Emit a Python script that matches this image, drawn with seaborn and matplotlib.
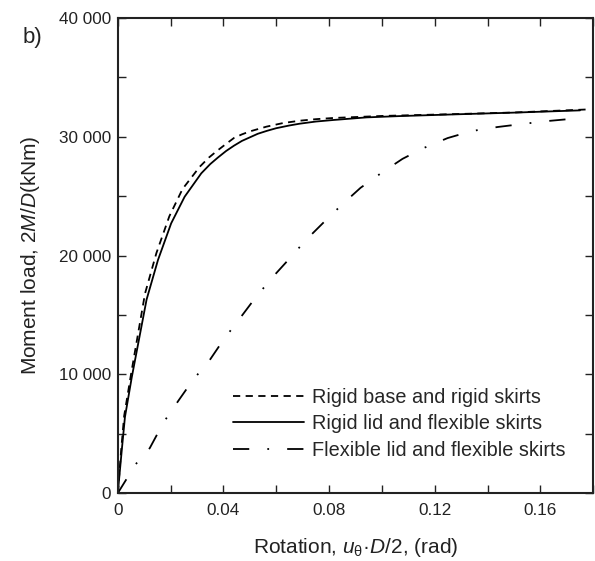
import numpy as np
import pandas as pd
import matplotlib
matplotlib.use("Agg")
import matplotlib.pyplot as plt
import seaborn as sns
from matplotlib.ticker import MultipleLocator

# values
rigid_base_x = [0, 0.0013, 0.0024, 0.005, 0.0103, 0.0146, 0.0195, 0.0245, 0.031,
                0.0345, 0.0375, 0.041, 0.044, 0.047, 0.05, 0.0563, 0.0625, 0.0689,
                0.075, 0.0816, 0.1, 0.13, 0.15, 0.178]
rigid_base_y = [0, 3700, 6500, 10000, 16800, 20200, 23300, 25600, 27470,
                28250, 28800, 29400, 29900, 30200, 30450, 30850, 31150, 31350,
                31480, 31580, 31750, 31920, 32040, 32300]

rigid_lid_x = [0, 0.0015, 0.0027, 0.0053, 0.0109, 0.0152, 0.0202, 0.0253, 0.0316,
               0.035, 0.0379, 0.041, 0.044, 0.047, 0.05, 0.053, 0.0565, 0.06,
               0.065, 0.0689, 0.075, 0.0816, 0.0942, 0.1068, 0.13, 0.15, 0.175]
rigid_lid_y = [0, 3620, 6400, 9770, 16300, 19620, 22710, 24950, 26920,
               27700, 28250, 28800, 29250, 29650, 29950, 30250, 30500, 30720,
               30950, 31100, 31280, 31410, 31630, 31740, 31900, 32030, 32220]

flexible_x = [0, 0.0068, 0.0121, 0.0174, 0.0231, 0.0284, 0.0348, 0.0402, 0.0455,
              0.0519, 0.0582, 0.0645, 0.0712, 0.0778, 0.0847, 0.0919, 0.0999,
              0.1078, 0.1158, 0.1249, 0.134, 0.1438, 0.153, 0.1626, 0.171, 0.175]
flexible_y = [0, 2440, 3790, 5980, 7830, 9510, 11200, 12970, 14500,
              16390, 18080, 19620, 21300, 22760, 24250, 25700, 26970,
              28140, 29050, 29890, 30480, 30820, 31070, 31320, 31490, 31560]

case_names = ["Rigid base and rigid skirts",
              "Rigid lid and flexible skirts",
              "Flexible lid and flexible skirts"]

x_ticks = [0, 0.04, 0.08, 0.12, 0.16]
x_tick_labels = ["0", "0.04", "0.08", "0.12", "0.16"]
y_ticks = [0, 10000, 20000, 30000, 40000]
y_tick_labels = ["0", "10 000", "20 000", "30 000", "40 000"]

df = pd.concat([
    pd.DataFrame({"rot": rigid_base_x, "moment": rigid_base_y, "case": case_names[0]}),
    pd.DataFrame({"rot": rigid_lid_x, "moment": rigid_lid_y, "case": case_names[1]}),
    pd.DataFrame({"rot": flexible_x, "moment": flexible_y, "case": case_names[2]}),
], ignore_index=True)

sns.set_theme(style="ticks")
plt.rcParams['font.family'] = ['Liberation Sans', 'DejaVu Sans']
plt.rcParams['mathtext.fontset'] = 'custom'
plt.rcParams['mathtext.rm'] = 'Liberation Sans'
plt.rcParams['mathtext.it'] = 'Liberation Sans:italic'

fig = plt.figure(figsize=(5.95, 5.61), dpi=100)
ax = fig.add_axes([0.198, 0.121, 0.799, 0.847])

sns.lineplot(data=df, x="rot", y="moment", style="case", style_order=case_names,
             dashes={case_names[0]: (4.0, 3.0), case_names[1]: "",
                     case_names[2]: (9.0, 10.0, 1.0, 10.0)},
             color="black", linewidth=1.3, sort=False, estimator=None, ax=ax)

ax.set_xlim(0, 0.18)
ax.set_ylim(0, 40000)
ax.set_xticks(x_ticks)
ax.set_xticklabels(x_tick_labels)
ax.set_yticks(y_ticks)
ax.set_yticklabels(y_tick_labels)
ax.xaxis.set_minor_locator(MultipleLocator(0.02))
ax.yaxis.set_minor_locator(MultipleLocator(5000))
ax.tick_params(which="both", direction="in", top=True, right=True,
               length=6, width=1.0, color="#222222", labelsize=12.3, labelcolor="#222222")
ax.tick_params(axis="x", pad=7)
ax.tick_params(axis="y", pad=5)
for sp in ax.spines.values():
    sp.set_linewidth(1.5)
    sp.set_color("#222222")

ax.set_xlabel(r"Rotation, $\mathit{u}_{\mathrm{θ}}$·$\mathit{D}$/2, (rad)",
              fontsize=15, color="#222222", labelpad=13)
ax.set_ylabel(r"Moment load, 2$\mathit{M}$/$\mathit{D}$(kNm)",
              fontsize=15, color="#222222", labelpad=12)

handles, labels = ax.get_legend_handles_labels()
ax.legend(handles, labels, loc="upper left", bbox_to_anchor=(0.242, 0.222),
          frameon=False, fontsize=14.3, handlelength=3.6, handletextpad=0.36,
          labelspacing=0.38, borderpad=0, borderaxespad=0)

fig.text(32 / 595, 1 - 38 / 561, "b)", fontsize=16, color="#222222",
         ha="center", va="center")

fig.savefig("out.png", dpi=100)
